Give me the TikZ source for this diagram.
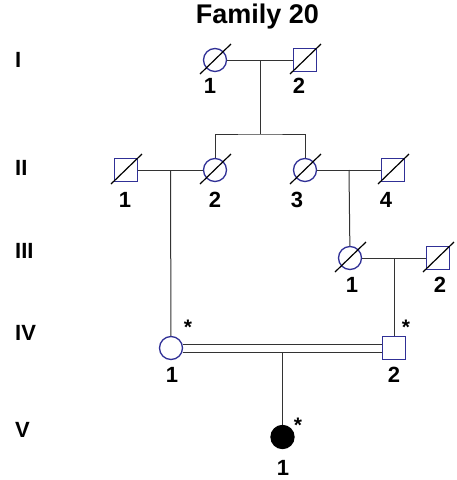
\documentclass[tikz,border=0pt]{standalone}
\usepackage{fontspec}
\setmainfont{Liberation Sans}
\usetikzlibrary{calc,backgrounds}
\definecolor{pedblue}{RGB}{48,48,150}
\colorlet{linecolor}{black!80}

\begin{document}
\begin{tikzpicture}[x=1pt, y=-1pt,
  female/.style={circle, draw=pedblue, line width=1.3pt, minimum size=23pt, inner sep=0pt},
  male/.style={rectangle, draw=pedblue, line width=1.3pt, minimum size=22.5pt, inner sep=0pt},
  affected/.style={fill=black, draw=black},
  rel/.style={draw=linecolor, line width=1pt},
  slash/.style={draw=black, line width=1.2pt},
  num/.style={font=\fontsize{22}{24}\selectfont\bfseries, anchor=base, inner sep=0pt},
  gen/.style={font=\fontsize{22}{24}\selectfont\bfseries, anchor=base west, inner sep=0pt},
  star/.style={font=\fontsize{21}{24}\selectfont\bfseries, anchor=base, inner sep=0pt}
]
\useasboundingbox (0,0) rectangle (456,480);

\node[font=\fontsize{27}{30}\selectfont\bfseries, anchor=base, inner sep=0pt] (title) at (257.5,23) {Family 20};

\node[gen] (genI) at (15,67) {I};
\node[gen] (genII) at (15,175) {II};
\node[gen] (genIII) at (15,258) {III};
\node[gen] (genIV) at (15,340) {IV};
\node[gen] (genV) at (15,437) {V};

\node[female] (i1) at (215,60) {};
\node[male] (i2) at (305,60) {};
\node[male] (ii1) at (126,170) {};
\node[female] (ii2) at (215,170) {};
\node[female] (ii3) at (305,170) {};
\node[male] (ii4) at (393,170) {};
\node[female] (iii1) at (350,258) {};
\node[male] (iii2) at (438,258) {};
\node[female] (iv1) at (171,348) {};
\node[male] (iv2) at (394,348) {};
\node[female, affected] (v1) at (282.5,437) {};

\foreach \n in {i1,i2,ii1,ii2,ii3,ii4,iii1,iii2}
  \draw[slash] ($(\n)+(-15,14)$) -- ($(\n)+(16,-16)$);

\coordinate (m1) at ($(i1)!0.5!(i2)$);
\coordinate (sib1) at (260,134);
\coordinate (m2) at ($(ii1)!0.5!(ii2)$);
\coordinate (m3) at ($(ii3)!0.5!(ii4)$);
\coordinate (m4) at ($(iii1)!0.5!(iii2)$);
\coordinate (m5) at ($(iv1)!0.5!(iv2)$);

\begin{scope}[on background layer]
\draw[rel] (i1) -- (i2);
\draw[rel] (m1) -- (sib1);
\draw[rel] (ii2) |- (sib1) -| (ii3);
\draw[rel] (ii1) -- (ii2);
\draw[rel] (m2) -- (iv1);
\draw[rel] (ii3) -- (ii4);
\draw[rel] (m3) -- (iii1);
\draw[rel] (iii1) -- (iii2);
\draw[rel] (m4) -- (iv2);
\draw[rel] ([yshift=-4pt]m5) -- (v1);
\draw[rel] ([yshift=4pt]iv1.east) -- ([yshift=4pt]iv2.west);
\draw[rel] ([yshift=-4pt]iv1.east) -- ([yshift=-4pt]iv2.west);
\end{scope}

\node[num] (n-i1) at (210,93) {1};
\node[num] (n-i2) at (299,93) {2};
\node[num] (n-ii1) at (125,207) {1};
\node[num] (n-ii2) at (215,207) {2};
\node[num] (n-ii3) at (297,207) {3};
\node[num] (n-ii4) at (386,207) {4};
\node[num] (n-iii1) at (352,292) {1};
\node[num] (n-iii2) at (440,292) {2};
\node[num] (n-iv1) at (172,382) {1};
\node[num] (n-iv2) at (394,382) {2};
\node[num] (n-v1) at (283,475) {1};

\node[star] (s-iv1) at (188,334) {*};
\node[star] (s-iv2) at (406,334) {*};
\node[star] (s-v1) at (298,432) {*};
\end{tikzpicture}
\end{document}
